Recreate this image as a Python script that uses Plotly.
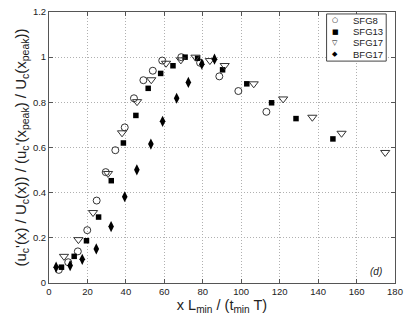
import plotly.graph_objects as go

sfg8_x = [5.1, 10.0, 15.0, 19.9, 24.8, 29.5, 34.5, 39.4, 44.2, 49.1, 54.0, 58.9, 68.8, 78.6, 88.6, 98.5, 113.1]
sfg8_y = [0.058, 0.092, 0.14, 0.234, 0.365, 0.491, 0.588, 0.689, 0.818, 0.898, 0.94, 0.985, 1.0, 0.975, 0.915, 0.85, 0.758]

sfg13_x = [6.5, 13.1, 19.5, 25.8, 32.4, 38.7, 45.2, 51.6, 58.1, 64.5, 70.8, 77.3, 90.3, 102.9, 115.8, 128.5, 147.7]
sfg13_y = [0.07, 0.118, 0.187, 0.292, 0.453, 0.62, 0.742, 0.862, 0.928, 0.962, 1.0, 0.995, 0.944, 0.882, 0.798, 0.728, 0.638]

sfg17_x = [7.8, 15.3, 22.9, 30.7, 38.0, 45.8, 53.2, 60.9, 68.6, 76.2, 83.7, 91.4, 106.5, 121.8, 137.0, 152.2, 174.9]
sfg17_y = [0.118, 0.192, 0.312, 0.485, 0.665, 0.803, 0.9, 0.973, 0.988, 1.0, 0.985, 0.963, 0.882, 0.815, 0.734, 0.663, 0.578]

bfg17_x = [3.7, 11.0, 17.3, 24.6, 32.3, 39.4, 45.7, 53.0, 59.1, 66.4, 72.5, 79.5, 86.1]
bfg17_y = [0.07, 0.077, 0.105, 0.151, 0.25, 0.382, 0.501, 0.615, 0.716, 0.818, 0.888, 0.969, 0.991]

series_names = ["SFG8", "SFG13", "SFG17", "BFG17"]
legend_glyphs = ["○", "■", "▽", "◆"]

x_ticks = [0, 20, 40, 60, 80, 100, 120, 140, 160, 180]
y_ticks = [0, 0.2, 0.4, 0.6, 0.8, 1.0, 1.2]
y_tick_labels = ["0", "0.2", "0.4", "0.6", "0.8", "1", "1.2"]

FONT = "Liberation Sans, Arial"
TXT = "#222"

fig = go.Figure()
fig.add_trace(go.Scatter(x=sfg8_x, y=sfg8_y, mode="markers", name="SFG8",
                         marker=dict(symbol="circle-open", size=7, color="#333", line=dict(width=1))))
fig.add_trace(go.Scatter(x=sfg13_x, y=sfg13_y, mode="markers", name="SFG13",
                         marker=dict(symbol="square", size=5.5, color="black")))
fig.add_trace(go.Scatter(x=sfg17_x, y=sfg17_y, mode="markers", name="SFG17",
                         marker=dict(symbol="triangle-down-open", size=8, color="#333", line=dict(width=1))))
fig.add_trace(go.Scatter(x=bfg17_x, y=bfg17_y, mode="markers", name="BFG17",
                         marker=dict(symbol="diamond-tall", size=8, color="black")))

axis_common = dict(showgrid=True, gridcolor="#b0b0b0", griddash="1px,2px", gridwidth=1,
                   showline=True, linecolor="#555555", linewidth=1, mirror="ticks",
                   ticks="inside", ticklen=4, tickcolor="#555555", zeroline=False,
                   ticklabeloverflow="allow",
                   tickfont=dict(family=FONT, size=9.5, color=TXT))

fig.update_xaxes(range=[0, 180], tickvals=x_ticks,
                 title=dict(text="x L<sub>min</sub> / (t<sub>min</sub> T)", font=dict(family=FONT, size=14.5, color=TXT), standoff=1),
                 **axis_common)
fig.update_yaxes(range=[0, 1.2], tickvals=y_ticks, ticktext=y_tick_labels,
                 title=dict(text="(u<sub>c</sub>'(x) / U<sub>c</sub>(x)) / (u<sub>c</sub>'(x<sub>peak</sub>) / U<sub>c</sub>(x<sub>peak</sub>))",
                            font=dict(family=FONT, size=15, color=TXT), standoff=2),
                 **axis_common)

fig.add_annotation(x=170, y=0.05, text="<i>(d)</i>", showarrow=False,
                   font=dict(family=FONT, size=10, color=TXT))

# custom compact legend box (top right)
lx0, lx1, ly0, ly1 = 333, 394, 9, 57   # pixel positions in the figure
W, H = 409, 317
ml, mr, mt, mb = 49, 6, 7, 34
pw, ph = W - ml - mr, H - mt - mb
def px2paper_x(px):
    return (px - ml) / pw
def px2paper_y(py):
    return 1 - (py - mt) / ph

fig.add_shape(type="rect", xref="paper", yref="paper",
              x0=px2paper_x(lx0), x1=px2paper_x(lx1), y0=px2paper_y(ly1), y1=px2paper_y(ly0),
              line=dict(color="#444", width=1), fillcolor="white", layer="above")
for i, (g, n) in enumerate(zip(legend_glyphs, series_names)):
    cy = px2paper_y(15.5 + i * 11.5)
    fig.add_annotation(xref="paper", yref="paper", x=px2paper_x(342), y=cy, text=g,
                       showarrow=False, xanchor="center", yanchor="middle",
                       font=dict(family="DejaVu Sans", size=7, color="black"))
    fig.add_annotation(xref="paper", yref="paper", x=px2paper_x(358), y=cy, text=n,
                       showarrow=False, xanchor="left", yanchor="middle",
                       font=dict(family=FONT, size=9.5, color=TXT))

fig.update_layout(
    width=W, height=H,
    margin=dict(l=ml, r=mr, t=mt, b=mb),
    plot_bgcolor="white", paper_bgcolor="white",
    showlegend=False,
)

fig.write_html("out.html", config={"displayModeBar": False},
               post_script="document.body.style.margin='0';document.body.style.overflow='hidden';")
